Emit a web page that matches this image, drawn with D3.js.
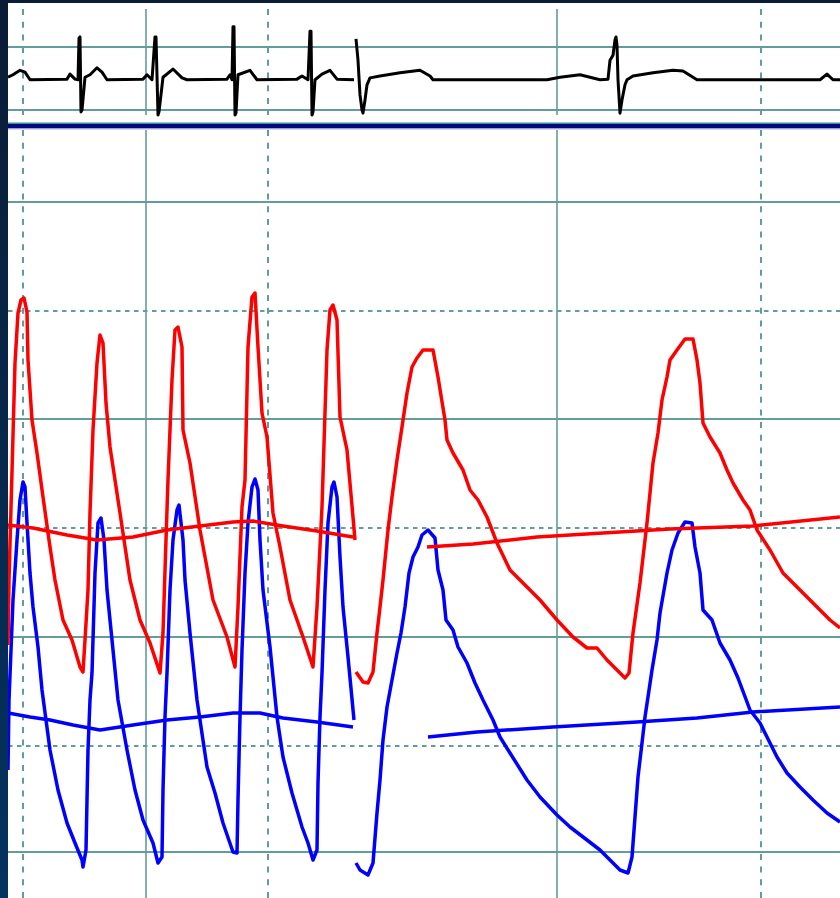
<!DOCTYPE html>
<meta charset="utf-8">
<script src="https://cdn.jsdelivr.net/npm/d3@7"></script>
<style> body{margin: 0; background: #0b2040; overflow: hidden;}</style>

<div id="vis"></div>

<script>
// time in ms, ECG in mV, pressures in mmHg
const ecgA = [[0,0.02],[10,0.06],[24,0.13],[34,0.10],[44,-0.02],[118,-0.01],[124,0.07],[134,-0.01],[140,-0.02],[142,0.64],[144,0.66],[146,-0.53],[148,-0.50],[154,0.02],[164,0.06],[178,0.17],[188,0.10],[198,-0.02],
  [270,-0.01],[278,0.06],[288,-0.02],[294,0.66],[296,0.66],[300,-0.58],[302,-0.53],[310,0.02],[330,0.15],[348,0.01],[358,-0.02],
  [438,-0.01],[444,0.06],[448,-0.02],[450,0.82],[452,0.82],[454,-0.58],[456,-0.55],[460,0.06],[484,0.13],[498,-0.02],
  [578,-0.01],[588,0.04],[600,-0.02],[604,0.75],[606,0.75],[608,-0.58],[610,-0.53],[614,-0.02],[628,0.07],[644,0.13],[658,-0.01],[692,-0.02]]
const ecgB = [[696,0.63],[700,0.29],[704,-0.26],[708,-0.50],[710,-0.55],[714,-0.34],[718,-0.10],[724,0.01],[744,0.04],[784,0.09],[824,0.13],[844,0.04],[850,-0.02],
  [1078,-0.02],[1104,0.02],[1144,0.06],[1184,-0.02],[1200,-0.01],[1204,0.29],[1210,0.37],[1214,0.61],[1216,0.66],[1218,0.53],[1220,-0.02],[1224,-0.55],[1228,-0.34],[1234,-0.10],[1238,-0.02],
  [1250,0.04],[1290,0.09],[1330,0.13],[1350,0.12],[1378,-0.02],[1624,-0.02],[1638,0.07],[1650,-0.02],[1664,-0.02]]

const redA = [[0,41.4],[2,54.4],[14,97.8],[20,107.8],[26,110.4],[32,110.8],[38,108],[40,98.4],[48,86.4],[58,79.8],[70,71],[84,61],[94,54.4],[110,46.4],[128,42.4],[144,37],[150,36],
  [154,42.4],[160,52.4],[164,67.8],[170,84.4],[178,97.8],[184,103.4],[190,101.8],[196,89.8],[204,81],[224,67.8],[244,54.4],[264,46.4],[284,41.8],[304,35.8],
  [310,43.8],[316,62.4],[320,74.4],[328,94.4],[334,104.4],[340,105],[348,101],[350,84.4],[364,77.8],[384,64.4],[410,50.4],[438,43],[454,37],
  [460,49],[468,69],[474,74.4],[480,101],[488,111],[494,111.8],[500,101],[508,87.8],[518,83],[530,67.8],[544,61],[564,50.4],[590,43],[610,37],
  [618,49],[628,69],[638,100.4],[644,108.4],[650,109.4],[658,106.4],[664,87],[678,80.4],[690,67],[694,62.4]]
const redB = [[696,36],[710,34],[720,33.8],[730,36],[738,43.8],[744,49],[750,54.4],[760,64.4],[768,71],[778,78.4],[788,85],[798,91.8],[808,97],[818,98.8],[830,100.4],[850,100.4],
  [860,95],[874,86.4],[878,82.4],[890,79.8],[910,76.4],[924,72.4],[940,70.4],[958,67],[978,61.8],[1004,56.4],[1038,53],[1064,50.4],[1098,46.4],[1130,43],[1158,40.8],[1178,40.8],[1198,38.4],[1218,36.4],[1234,34.8],
  [1242,35.8],[1250,43.8],[1264,53.8],[1278,65.8],[1290,77.8],[1300,83.8],[1308,90.4],[1318,95],[1324,98.4],[1338,100.4],[1354,102.6],[1370,102.6],
  [1378,98.4],[1384,93.8],[1390,85.8],[1404,83],[1424,79.8],[1438,76.4],[1450,73.8],[1470,70.4],[1484,68.4],[1498,64.4],[1524,60.4],[1550,55.8],[1584,52.4],[1618,49],[1644,46.4],[1664,44.8]]
const redMeanA = [[0,65.4],[50,64.8],[118,63.4],[178,62.4],[250,63],[318,64.4],[384,65.2],[450,66],[490,66.2],[550,65.2],[618,64.2],[690,63]]
const redMeanB = [[838,61],[930,61.6],[1058,63],[1190,63.8],[1324,64.6],[1490,65.2],[1664,67]]

const blueA = [[0,16.4],[2,30.4],[10,50.4],[18,62.4],[24,70.4],[30,74],[34,73],[38,65.8],[44,55.8],[50,49],[60,41],[68,32.4],[84,20.4],[100,12.4],[118,5.8],[134,1.8],[148,-1.6],[150,-3],
  [156,0.4],[158,10.4],[160,20.4],[164,30.4],[168,35.8],[174,55.8],[180,65.8],[186,66.8],[192,62.4],[198,52.4],[208,42.4],[220,30.4],[238,20.4],[254,12.4],[270,6.4],[290,1.8],[300,-2.2],
  [308,-1],[310,12.4],[314,27],[318,35.8],[324,52.4],[330,62.4],[338,68.4],[342,69.4],[350,62.4],[354,54.4],[364,43.8],[378,30.4],[398,17],[414,11.8],[430,5.8],[450,0],[458,-0.2],
  [460,10.4],[464,27],[468,40.4],[474,55.8],[480,65.8],[488,73],[494,74.6],[500,72.4],[504,62.4],[510,52.4],[524,41],[538,27],[550,19],[568,11.8],[588,5],[600,1.8],[610,-1.6],
  [618,0.4],[620,13.8],[624,27],[628,35.8],[634,52.4],[640,65.8],[648,73],[652,74],[658,71],[664,59],[670,49],[680,39],[692,26.4]]
const blueB = [[696,-2.2],[704,-3.6],[720,-4.6],[730,-2.2],[738,7.8],[744,14.4],[750,22.4],[758,29],[768,34.4],[778,39.8],[786,43.8],[794,49],[802,55.8],[810,59],[820,61],[828,63.4],[840,64.4],
  [854,62.8],[860,56.4],[870,52.4],[876,46.4],[890,44.4],[900,41],[918,37.8],[934,33.8],[950,30.4],[970,26.4],[984,23],[1004,19.8],[1038,14.4],[1064,11],[1098,7.4],[1124,5],[1158,2.4],[1184,0.4],[1204,-1.6],[1224,-3.6],[1240,-4.2],
  [1248,-1],[1254,7],[1260,15],[1268,21.8],[1274,27],[1280,31],[1288,36.4],[1298,42.4],[1304,47.8],[1318,55.8],[1328,60.4],[1340,63.8],[1354,66],[1368,65.8],
  [1374,61],[1384,55.8],[1390,48.4],[1408,46.4],[1424,41.8],[1444,38.4],[1460,34.8],[1484,28.4],[1504,25.8],[1518,23],[1538,19],[1558,15.8],[1584,13],[1610,10.4],[1638,7.8],[1664,6]]
const blueMeanA = [[0,27.8],[44,27],[84,26.4],[130,25.4],[184,24.4],[250,25.4],[318,26.4],[384,27],[450,27.8],[504,27.8],[550,26.8],[618,26],[690,25]]
const blueMeanB = [[840,23],[938,24],[1090,25],[1258,26],[1378,26.8],[1490,28],[1664,29]]

const gridTimes = [30, 276, 520, 1098, 1506]
const gridTimesDashed = [true, false, true, false, true]
const pressureGrid = [0, 21.2, 43, 64.8, 86.6, 108.2, 130]
const pressureGridDashed = [false, true, false, true, false, true, false]
const ecgGrid = [0.5, -0.5]

const width = 840, height = 898
const padLeft = 8, padTop = 3
const ecgBottom = 122, lowTop = 130

const x = d3.scaleLinear().domain([0, 1664]).range([padLeft, width])
const yP = d3.scaleLinear().domain([0, 130]).range([852, 202])
const yE = d3.scaleLinear().domain([-0.5, 0.5]).range([110, 47])

const svg = d3.select("#vis").append("svg")
  .attr("width", width).attr("height", height)

const defs = svg.append("defs")
const grad = defs.append("linearGradient").attr("id", "frame")
  .attr("x1", 0).attr("y1", 0).attr("x2", 0).attr("y2", 1)
grad.append("stop").attr("offset", 0).attr("stop-color", "#0a1c36")
grad.append("stop").attr("offset", 1).attr("stop-color", "#033360")
defs.append("clipPath").attr("id", "clipE").append("rect")
  .attr("x", padLeft).attr("y", padTop).attr("width", width - padLeft).attr("height", ecgBottom - padTop)
defs.append("clipPath").attr("id", "clipP").append("rect")
  .attr("x", padLeft).attr("y", lowTop).attr("width", width - padLeft).attr("height", height - lowTop)

svg.append("rect").attr("width", width).attr("height", height).attr("fill", "url(#frame)")
svg.append("rect").attr("x", padLeft).attr("y", padTop)
  .attr("width", width - padLeft).attr("height", height - padTop).attr("fill", "#ffffff")

const gridColor = "#629c9c"
const grid = svg.append("g")

// vertical grid, ECG panel and pressure panel
gridTimes.forEach((t, i) => {
  [[9, 115], [lowTop, height]].forEach(r => {
    grid.append("line")
      .attr("x1", x(t)).attr("x2", x(t))
      .attr("y1", r[0]).attr("y2", r[1])
      .attr("stroke", gridColor)
      .attr("stroke-width", gridTimesDashed[i] ? 2 : 1.6)
      .attr("stroke-dasharray", gridTimesDashed[i] ? "6,6.7" : null)
  })
})

ecgGrid.forEach(v => {
  grid.append("line")
    .attr("x1", padLeft).attr("x2", width)
    .attr("y1", yE(v)).attr("y2", yE(v))
    .attr("stroke", gridColor).attr("stroke-width", 1.8)
})

pressureGrid.forEach((p, i) => {
  grid.append("line")
    .attr("x1", padLeft).attr("x2", width)
    .attr("y1", yP(p)).attr("y2", yP(p))
    .attr("stroke", gridColor)
    .attr("stroke-width", pressureGridDashed[i] ? 2 : 1.8)
    .attr("stroke-dasharray", pressureGridDashed[i] ? "4.5,4.5" : null)
})

// separator between panels
svg.append("rect").attr("x", padLeft).attr("y", 122.5).attr("width", width - padLeft).attr("height", 1.5).attr("fill", "#3f8f94")
svg.append("rect").attr("x", padLeft).attr("y", 124).attr("width", width - padLeft).attr("height", 4.5).attr("fill", "#000a80")
svg.append("rect").attr("x", padLeft).attr("y", 128.5).attr("width", width - padLeft).attr("height", 1).attr("fill", "#b8b8e6")

const lineE = d3.line().x(d => x(d[0])).y(d => yE(d[1]))
const lineP = d3.line().x(d => x(d[0])).y(d => yP(d[1]))

const gE = svg.append("g").attr("clip-path", "url(#clipE)")
;[ecgA, ecgB].forEach(s => {
  gE.append("path").datum(s)
    .attr("d", lineE)
    .attr("fill", "none").attr("stroke", "#000000")
    .attr("stroke-width", 3).attr("stroke-linejoin", "round")
})

const gP = svg.append("g").attr("clip-path", "url(#clipP)")
const series = [
  [blueMeanA, "#0000ff"], [blueMeanB, "#0000ff"],
  [blueA, "#0000ff"], [blueB, "#0000ff"],
  [redMeanA, "#ff0000"], [redMeanB, "#ff0000"],
  [redA, "#ff0000"], [redB, "#ff0000"]
]
series.forEach(s => {
  gP.append("path").datum(s[0])
    .attr("d", lineP)
    .attr("fill", "none").attr("stroke", s[1])
    .attr("stroke-width", 3.5).attr("stroke-linejoin", "round")
})
</script>
